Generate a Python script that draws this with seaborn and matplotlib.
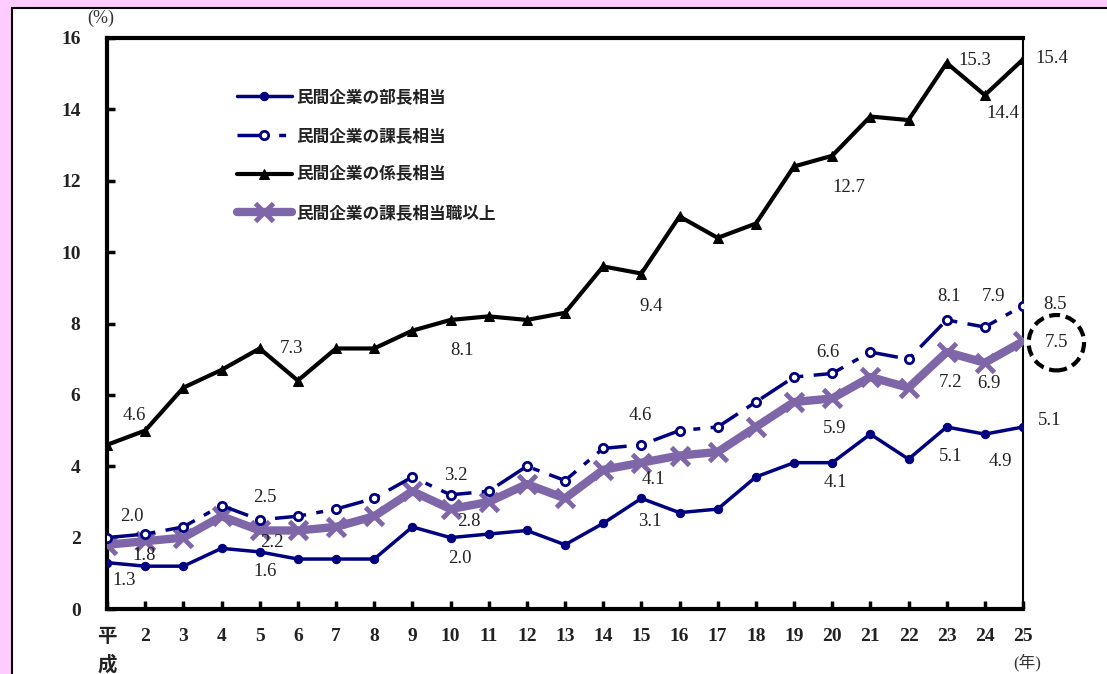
import matplotlib
matplotlib.use("Agg")
import matplotlib.pyplot as plt
import seaborn as sns
import pandas as pd
from matplotlib.patches import Rectangle

sns.set_theme(style="white")
plt.rcParams['font.family'] = ['Liberation Serif', 'Noto Sans CJK JP', 'DejaVu Sans']

# ---- data ----
years = list(range(1, 26))
tick_labels = ["平\n成"] + [str(y) for y in range(2, 26)]
series_names = ["民間企業の部長相当", "民間企業の課長相当", "民間企業の係長相当", "民間企業の課長相当職以上"]

bucho = [1.3, 1.2, 1.2, 1.7, 1.6, 1.4, 1.4, 1.4, 2.3, 2.0, 2.1, 2.2, 1.8, 2.4, 3.1,
         2.7, 2.8, 3.7, 4.1, 4.1, 4.9, 4.2, 5.1, 4.9, 5.1]
kacho = [2.0, 2.1, 2.3, 2.9, 2.5, 2.6, 2.8, 3.1, 3.7, 3.2, 3.3, 4.0, 3.6, 4.5, 4.6,
         5.0, 5.1, 5.8, 6.5, 6.6, 7.2, 7.0, 8.1, 7.9, 8.5]
kakari = [4.6, 5.0, 6.2, 6.7, 7.3, 6.4, 7.3, 7.3, 7.8, 8.1, 8.2, 8.1, 8.3, 9.6, 9.4,
          11.0, 10.4, 10.8, 12.4, 12.7, 13.8, 13.7, 15.3, 14.4, 15.4]
kacho_ijo = [1.8, 1.9, 2.0, 2.6, 2.2, 2.2, 2.3, 2.6, 3.3, 2.8, 3.0, 3.5, 3.1, 3.9, 4.1,
             4.3, 4.4, 5.1, 5.8, 5.9, 6.5, 6.2, 7.2, 6.9, 7.5]

labelled_years = [1, 5, 10, 15, 20, 23, 24, 25]

# ---- figure ----
fig = plt.figure(figsize=(11.07, 6.74), dpi=100)
fig.patch.set_facecolor("#FFCCFF")
fig.patches.append(Rectangle((12 / 1107, -0.1), 1.2, 1 - 8 / 674 + 0.1,
                             transform=fig.transFigure, facecolor="white",
                             edgecolor="black", linewidth=1.5, zorder=-10))
ax = fig.add_axes([107 / 1107, 1 - 609 / 674, (1023 - 107) / 1107, (609 - 38) / 674])
ax.set_zorder(1)
ax.set_facecolor("white")

navy = "#000080"
purple = "#7F66A8"

all_vals = [bucho, kacho, kakari, kacho_ijo]

sns.lineplot(x=years, y=kacho_ijo, ax=ax, color=purple, linewidth=6, marker="x",
             markersize=13, markeredgewidth=3.5, markeredgecolor=purple,
             label=series_names[3], zorder=3)
sns.lineplot(x=years, y=kakari, ax=ax, color="black", linewidth=3, marker="^",
             markersize=7.5, markeredgecolor="black", label=series_names[2], zorder=4)
sns.lineplot(x=years, y=kacho, ax=ax, color=navy, linewidth=2.5, marker="o",
             markersize=6, markerfacecolor="white", markeredgecolor=navy,
             markeredgewidth=2, label=series_names[1], zorder=5)
ax.lines[-1].set_dashes([9, 3, 2, 3])
sns.lineplot(x=years, y=bucho, ax=ax, color=navy, linewidth=2.5, marker="o",
             markersize=6, markeredgecolor=navy, label=series_names[0], zorder=6)

# reorder legend
handles, labels = ax.get_legend_handles_labels()
order = [labels.index(n) for n in series_names]
leg = ax.legend([handles[i] for i in order], [labels[i] for i in order],
                loc="upper left", bbox_to_anchor=(0.125, 0.939), frameon=False,
                handlelength=3.3, labelspacing=1.25, handletextpad=0.3,
                prop={"family": ["Noto Sans CJK JP"], "size": 12, "weight": "bold"})
for t in leg.get_texts():
    t.set_color("#222222")

ax.set_xlim(1, 25)
ax.set_ylim(0, 16)
ax.set_yticks(range(0, 17, 2))
ax.set_xticks(years)
ax.set_xticklabels(tick_labels, family=["Liberation Serif", "Noto Sans CJK JP"],
                   fontsize=14, fontweight="bold", va="top", linespacing=1.6)
ax.set_yticklabels([str(v) for v in range(0, 17, 2)], fontsize=14, fontweight="bold")
ax.tick_params(axis="both", direction="in", length=6, width=2.5, colors="black",
               labelcolor="#222222")
ax.tick_params(axis="y", pad=19, right=False, left=True)
ax.tick_params(axis="x", pad=14, bottom=True, top=False)
for s in ["left", "bottom", "top"]:
    ax.spines[s].set_linewidth(3)
    ax.spines[s].set_color("black")
ax.spines["right"].set_linewidth(1.5)
ax.spines["right"].set_color("black")
ax.set_xlabel("")
ax.set_ylabel("")

# value labels: offsets (points) of the label centre from the data point
offsets = {
    2: {1: (20, 21), 5: (23, 0), 10: (8, -22), 15: (7, -24), 20: (12, -23), 23: (20, 2), 24: (13, -13), 25: (21, 1)},
    0: {1: (12, -13), 5: (4, -14), 10: (7, -15), 15: (6, -17), 20: (2, -14), 23: (3, -21), 24: (11, -20), 25: (19, 5)},
    1: {1: (18, 15), 5: (4, 16), 10: (4, 14), 15: (-1, 21), 20: (-3, 15), 23: (2, 17), 24: (6, 22), 25: (23, 1)},
    3: {1: (27, -8), 5: (9, -9), 10: (13, -9), 15: (9, -12), 20: (2, -22), 23: (3, -22), 24: (3, -15), 25: (24, -1)},
}
for si in range(4):
    vals = all_vals[si]
    for yr in labelled_years:
        dx, dy = offsets[si][yr]
        kw = {}
        if si == 3 and yr == 25:
            kw["bbox"] = dict(boxstyle="circle,pad=0.85", fc="none", ec="black",
                              ls=(0, (2.6, 1.4)), lw=3)
        ax.annotate(f"{vals[yr - 1]:.1f}", xy=(yr, vals[yr - 1]), xytext=(dx, dy),
                    textcoords="offset points", ha="center", va="center",
                    fontsize=13.5, color="#222222", annotation_clip=False,
                    zorder=10, **kw)

fig.text(101 / 1107, 1 - 18 / 674, "(%)", fontsize=13, color="#333333",
         va="center", ha="center")
fig.text(1027 / 1107, 1 - 663 / 674, "(年)", fontsize=12, ha="center",
         family=["Liberation Serif", "Noto Sans CJK JP"], color="#333333", va="center")

fig.savefig("out.png", dpi=100, facecolor=fig.get_facecolor())
